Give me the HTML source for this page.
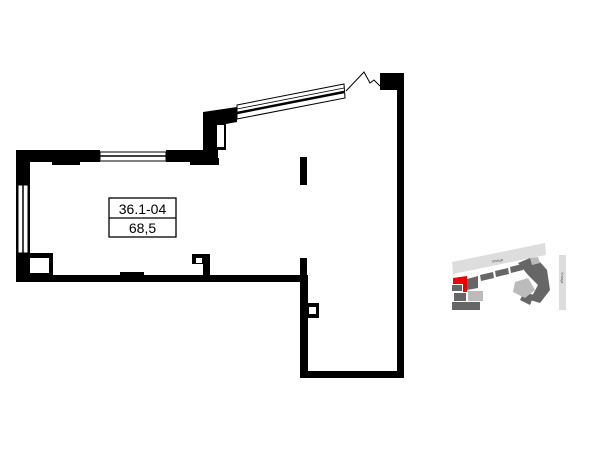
<!DOCTYPE html>
<html><head><style>body{margin:0;background:#fff}svg{display:block}</style></head><body>
<svg width="600" height="450" viewBox="0 0 600 450" xmlns="http://www.w3.org/2000/svg">
<rect width="600" height="450" fill="#fff"/>
<g fill="#000">
<rect x="16" y="150" width="14" height="132"/>
<rect x="16" y="150" width="84" height="12"/>
<rect x="166" y="150" width="52" height="12"/>
<rect x="52" y="160" width="28" height="5"/>
<rect x="190" y="160" width="28" height="5"/>
<polygon points="203,112 237,107 237,122 226,124 226,150 218,150 218,165 203,165"/>
<rect x="213" y="158" width="6" height="7"/>
<rect x="380" y="73" width="23" height="17"/>
<rect x="397" y="73" width="7" height="305"/>
<rect x="16" y="275" width="292" height="7"/>
<rect x="300" y="275" width="8" height="103"/>
<rect x="300" y="371" width="104" height="7"/>
<rect x="300" y="157" width="7" height="28"/>
<rect x="300" y="258" width="7" height="20"/>
<rect x="16" y="253" width="37" height="25"/>
<rect x="192" y="254" width="18" height="10"/>
<rect x="203" y="254" width="7" height="22"/>
<rect x="120" y="272" width="24" height="5"/>
<rect x="306" y="303" width="13" height="15"/>
</g>
<g fill="#fff">
<rect x="30" y="258" width="19" height="15"/>
<rect x="217" y="125" width="7" height="22"/>
<rect x="196" y="258" width="6" height="5"/>
<rect x="309" y="307" width="7" height="7"/>
</g>
<rect x="100" y="152" width="66" height="9" fill="#fff" stroke="#000" stroke-width="1"/>
<line x1="100" y1="156" x2="166" y2="156" stroke="#000" stroke-width="1.5"/>
<rect x="18" y="185" width="10" height="68" fill="#fff" stroke="#000" stroke-width="1"/>
<line x1="23" y1="185" x2="23" y2="253" stroke="#000" stroke-width="1.5"/>
<polygon points="237,105 344,84 345,98 237,119" fill="#fff" stroke="#000" stroke-width="1"/>
<line x1="237" y1="113" x2="344" y2="92" stroke="#000" stroke-width="2.5"/>
<line x1="237" y1="109" x2="344" y2="88" stroke="#000" stroke-width="0.8"/>
<polyline points="346,91 364,72 370,83 374,80 380,86" fill="none" stroke="#000" stroke-width="1"/>
<rect x="109" y="198" width="67" height="39" fill="#fff" stroke="#000" stroke-width="1.3"/>
<line x1="109" y1="218" x2="176" y2="218" stroke="#000" stroke-width="1.3"/>
<text x="142.5" y="214" font-family="Liberation Sans, sans-serif" font-size="14" font-weight="500" text-anchor="middle">36.1-04</text>
<text x="142.5" y="233" font-family="Liberation Sans, sans-serif" font-size="14" font-weight="500" text-anchor="middle">68,5</text>
<polygon points="452,262 545,243 546,255 453,274" fill="#ddd"/>
<text x="492" y="263" font-family="Liberation Sans, sans-serif" font-size="4" fill="#555" transform="rotate(-11 492 263)">Улица</text>
<rect x="559" y="255" width="7" height="55" fill="#ddd"/>
<text x="561" y="272" font-family="Liberation Sans, sans-serif" font-size="4" fill="#555" transform="rotate(90 561 272)">Улица</text>
<g fill="#666">
<polygon points="467,279 478,276 478,288 467,290"/>
<polygon points="480,275 493,272 494,278 481,281"/>
<polygon points="495,271 508,268 509,274 496,277"/>
<polygon points="510,267 522,264 523,270 511,273"/>
<polygon points="518,263 530,258 540,262 547,270 550,290 540,303 530,300 538,285 528,275"/>
<polygon points="524,292 534,295 530,305 520,300"/>
<rect x="452" y="285" width="10" height="6"/>
<rect x="454" y="293" width="12" height="8"/>
<rect x="452" y="302" width="28" height="8"/>
</g>
<g fill="#bbb">
<polygon points="515,282 528,278 535,290 525,298 513,292"/>
<rect x="468" y="291" width="15" height="10"/>
<polygon points="530,258 538,257 540,263 532,265"/>
</g>
<polygon points="453,278 467,276 467,292 463,292 463,284 453,284" fill="#e00"/>
</svg>
</body></html>
